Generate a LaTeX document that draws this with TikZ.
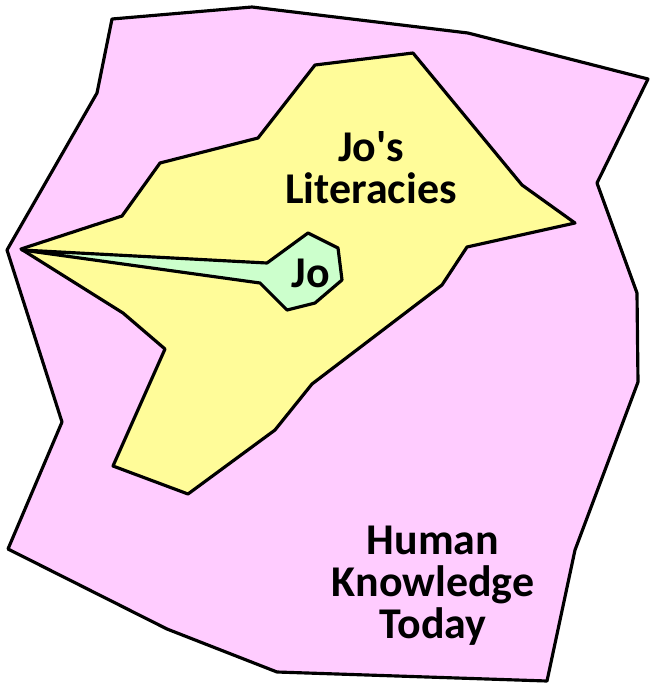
\documentclass[tikz,border=0pt]{standalone}
\usepackage{fontspec}
\setmainfont{Carlito}
\definecolor{knowpink}{HTML}{FFCCFF}
\definecolor{literyellow}{HTML}{FFFC99}
\definecolor{jogreen}{HTML}{CCFFCC}
\begin{document}
\begin{tikzpicture}[x=0.02cm, y=-0.02cm, line join=round,
  every node/.style={font=\bfseries\fontsize{25}{24}\selectfont, align=center}]
\useasboundingbox (0,0) rectangle (650,684);
% human knowledge
\filldraw[fill = knowpink, draw = black, line width=1.8pt] (112,19) -- (252,7) -- (468,33) -- (648,79) -- (597,183)
  -- (637,293) -- (638,382) -- (575,550) -- (547,681) -- (277,672) -- (167,629) -- (8,549)
  -- (62,422) -- (7,250) -- (97,93) -- cycle;
% literacies
\filldraw[fill = literyellow, draw = black, line width=1.8pt] (21,249) -- (122,216) -- (160,163) -- (258,138) -- (315,65)
  -- (413,53) -- (522,185) -- (575,223) -- (467,247) -- (442,285) -- (312,384) -- (275,430)
  -- (188,494) -- (113,466) -- (165,349) -- (123,313) -- cycle;
% jo
\filldraw[fill = jogreen, draw = black, line width=1.8pt] (22,250) -- (267,263) -- (308,233) -- (338,248) -- (342,280)
  -- (315,303) -- (287,310) -- (260,283) -- cycle;
\node (literacies) at (371,168) {Jo\textquotesingle s\\Literacies};
\node (jo) at (311,273) {Jo};
\node (knowledge) at (433,586) {Human\\Knowledge\\Today};
\end{tikzpicture}
\end{document}
